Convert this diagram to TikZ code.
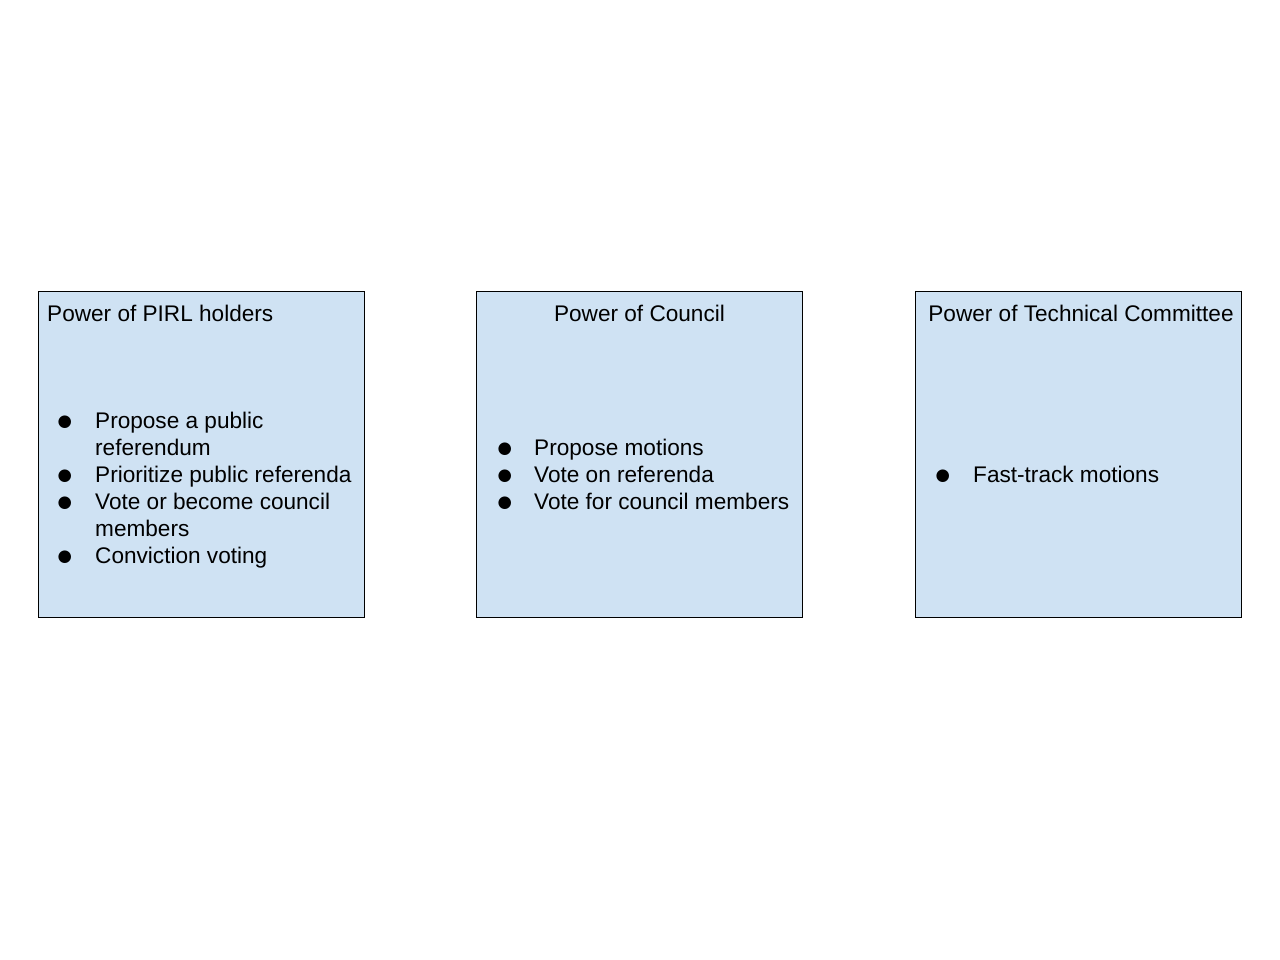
\documentclass[tikz,border=0pt]{standalone}
\usepackage{fontspec}
\setmainfont{Liberation Sans}
\newfontfamily\bulletfont{DejaVu Sans}
\usepackage{array}
\usepackage{xcolor}
\usetikzlibrary{positioning}

\definecolor{boxblue}{HTML}{CFE2F3}
\newcommand{\bul}{\raisebox{1.5pt}{\bulletfont\fontsize{16.5}{27}\selectfont ●}}

\begin{document}
\begin{tikzpicture}[
    x=1pt, y=-1pt,
    powerbox/.style={rectangle, draw=black, line width=0.8pt, fill=boxblue, minimum width=326pt, minimum height=326pt, inner sep=0pt},
    boxtitle/.style={inner sep=0pt, font=\fontsize{22.6}{27}\selectfont},
    bulletlist/.style={inner sep=0pt, anchor=base west, font=\fontsize{22.6}{27}\selectfont}
]
\useasboundingbox (0,0) rectangle (1280,960);

% the three boxes
\node[powerbox] (pirl) at (201,454) {};
\node[powerbox] (council) at (639.5,454) {};
\node[powerbox] (techcom) at (1078,454) {};

% titles
\node[boxtitle, anchor=base west] (pirltitle) at (47,321) {Power of PIRL holders};
\node[boxtitle, anchor=base] (counciltitle) at (639.5,321) {Power of Council};
\node[boxtitle, anchor=base] (techtitle) at (1081,321) {Power of Technical Committee};

% bullet lists
\node[bulletlist] (pirllist) at (53,428) {%
  \begin{tabular}[t]{@{}wc{23pt}@{\hspace{19pt}}l@{}}
  \bul & Propose a public\\
       & referendum\\
  \bul & Prioritize public referenda\\
  \bul & Vote or become council\\
       & members\\
  \bul & Conviction voting
  \end{tabular}};
\node[bulletlist] (councillist) at (493,455) {%
  \begin{tabular}[t]{@{}wc{23pt}@{\hspace{18pt}}l@{}}
  \bul & Propose motions\\
  \bul & Vote on referenda\\
  \bul & Vote for council members
  \end{tabular}};
\node[bulletlist] (techlist) at (931,482) {%
  \begin{tabular}[t]{@{}wc{23pt}@{\hspace{19pt}}l@{}}
  \bul & Fast-track motions
  \end{tabular}};

\end{tikzpicture}
\end{document}
